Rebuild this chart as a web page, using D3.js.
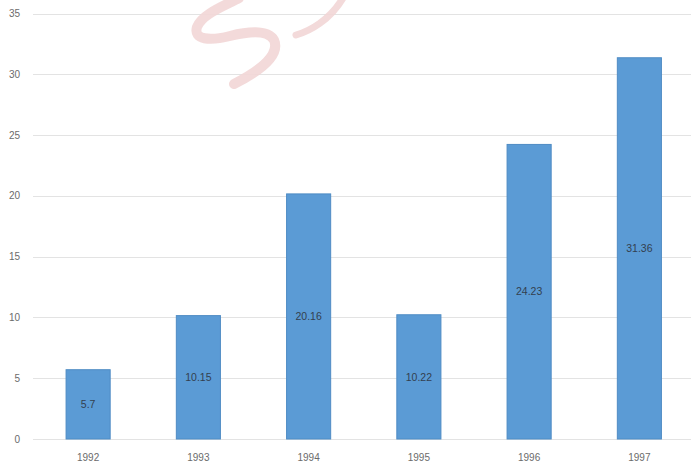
<!DOCTYPE html>
<html>
<head>
<meta charset="utf-8">
<script src="https://cdn.jsdelivr.net/npm/d3@7"></script>
<style>
  html, body { margin: 0; padding: 0; background: #ffffff; }
  svg { display: block; }
</style>
</head>
<body>
<svg id="chart" width="691" height="463"></svg>
<script>
const categories = ["1992", "1993", "1994", "1995", "1996", "1997"];
const values = [5.7, 10.15, 20.16, 10.22, 24.23, 31.36];
const labels = ["5.7", "10.15", "20.16", "10.22", "24.23", "31.36"];
const yTicks = [0, 5, 10, 15, 20, 25, 30, 35];

const svg = d3.select("#chart");
const plotLeft = 33, plotRight = 694.5, gridRight = 691, plotTop = 13.5, plotBottom = 439;

const x = d3.scaleBand().domain(categories).range([plotLeft, plotRight]).paddingInner(0.6).paddingOuter(0.3);
const y = d3.scaleLinear().domain([0, 35]).range([plotBottom, plotTop]);

// gridlines
svg.append("g").selectAll("line").data(yTicks).join("line")
  .attr("x1", plotLeft).attr("x2", gridRight)
  .attr("y1", d => Math.round(y(d)) + 0.5).attr("y2", d => Math.round(y(d)) + 0.5)
  .attr("stroke", "#e3e3e3").attr("stroke-width", 1.2);

// y tick labels
svg.append("g").selectAll("text").data(yTicks).join("text")
  .attr("x", 20).attr("y", d => y(d))
  .attr("dy", "0.35em").attr("text-anchor", "end")
  .attr("font-family", "Liberation Sans, Arial, sans-serif").attr("font-size", 10)
  .attr("fill", "#6b6b6b").text(d => d);

// watermark (decoration)
const wm = svg.append("g").attr("fill", "none").attr("stroke", "#f2d6d6").attr("stroke-linecap", "round").attr("opacity", 0.9);
wm.append("path").attr("d", "M239,-2 C224,6 202,14 197,27 C193,40 210,41 230,36 C250,31 268,30 274,40 C280,54 262,70 234,84")
  .attr("stroke-width", 10);
wm.append("path").attr("d", "M296,35 C310,31 330,20 343,-2").attr("stroke-width", 7);

// bars
svg.append("g").selectAll("rect").data(values).join("rect")
  .attr("x", (d, i) => x(categories[i]))
  .attr("width", x.bandwidth())
  .attr("y", d => y(d))
  .attr("height", d => y(0) - y(d))
  .attr("fill", "#5b9bd5")
  .attr("stroke", "#4f8cc4").attr("stroke-width", 1);

// value labels
svg.append("g").selectAll("text").data(values).join("text")
  .attr("x", (d, i) => x(categories[i]) + x.bandwidth() / 2)
  .attr("y", d => (y(d) + y(0)) / 2)
  .attr("dy", "0.35em").attr("text-anchor", "middle")
  .attr("font-family", "Liberation Sans, Arial, sans-serif").attr("font-size", 10.5)
  .attr("fill", "#333f4f").text((d, i) => labels[i]);

// x axis labels
svg.append("g").selectAll("text").data(categories).join("text")
  .attr("x", d => x(d) + x.bandwidth() / 2)
  .attr("y", 457).attr("dy", "0.35em").attr("text-anchor", "middle")
  .attr("font-family", "Liberation Sans, Arial, sans-serif").attr("font-size", 10)
  .attr("fill", "#6b6b6b").text(d => d);
</script>
</body>
</html>
